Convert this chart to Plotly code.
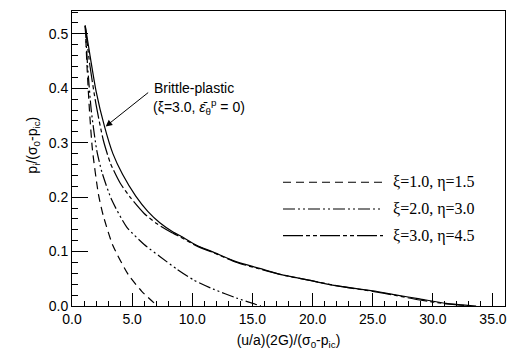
import plotly.graph_objects as go

# ---- data ----
x_xi1 = [1.1, 1.25, 1.45, 1.7, 2.2, 2.6, 3.4, 4.7, 5.8, 7.1]
y_xi1 = [0.515, 0.44, 0.36, 0.287, 0.205, 0.166, 0.111, 0.057, 0.027, 0.0]

x_xi2 = [1.1, 1.3, 1.6, 2.05, 2.5, 3.3, 4.55, 6.0, 7.3, 8.7, 10.1, 11.75, 13.7, 15.7]
y_xi2 = [0.515, 0.44, 0.36, 0.287, 0.245, 0.195, 0.145, 0.113, 0.091, 0.068, 0.048, 0.031, 0.0145, 0.0]

x_xi3 = [1.1, 1.5, 2.0, 2.6, 3.2, 4.0, 4.9, 6.0, 7.0, 8.2, 9.0, 10.4, 11.75, 13.7, 15.6, 17.3,
         20.0, 22.3, 25.0, 27.0, 28.9, 31.1, 33.4]
y_xi3 = [0.515, 0.44, 0.37, 0.305, 0.262, 0.226, 0.198, 0.170, 0.152, 0.136, 0.127, 0.110, 0.098,
         0.080, 0.068, 0.058, 0.046, 0.036, 0.027, 0.019, 0.011, 0.004, 0.0]

x_bp = [1.1, 1.5, 2.0, 2.7, 3.4, 4.2, 5.3, 6.3, 7.3, 8.4, 9.0, 10.4, 11.75, 13.7, 15.6, 17.3,
        20.0, 22.3, 25.0, 27.0, 28.9, 31.1, 33.6]
y_bp = [0.515, 0.46, 0.395, 0.33, 0.280, 0.242, 0.202, 0.174, 0.153, 0.136, 0.129, 0.111, 0.099,
        0.081, 0.069, 0.058, 0.046, 0.036, 0.028, 0.020, 0.013, 0.005, 0.0]

legend_labels = ["ξ=1.0, η=1.5", "ξ=2.0, η=3.0", "ξ=3.0, η=4.5"]
x_ticks = [0, 5, 10, 15, 20, 25, 30, 35]
y_ticks = [0.0, 0.1, 0.2, 0.3, 0.4, 0.5]

dash1 = "8px,5px"
dash2 = "12px,3px,2px,3px,2px,3px"
dash3 = "20px,3px,4px,3px,4px,3px"

fig = go.Figure()
common = dict(mode="lines", line_shape="spline", showlegend=False)
fig.add_trace(go.Scatter(x=x_xi1, y=y_xi1, line=dict(color="black", width=1.2, dash=dash1, smoothing=0.6), **common))
fig.add_trace(go.Scatter(x=x_xi2, y=y_xi2, line=dict(color="black", width=1.2, dash=dash2, smoothing=0.6), **common))
fig.add_trace(go.Scatter(x=x_xi3, y=y_xi3, line=dict(color="black", width=1.2, dash=dash3, smoothing=0.6), **common))
fig.add_trace(go.Scatter(x=x_bp, y=y_bp, line=dict(color="black", width=1.2, smoothing=0.6), **common))

# manual legend (paper coordinates)
L, R, T, B = 72, 505, 10, 308
W, H = R - L, B - T
def px(x):
    return (x - L) / W
def py(y):
    return (B - y) / H

rows = [183, 210, 237]
for lab, d, yy in zip(legend_labels, [dash1, dash2, dash3], rows):
    fig.add_shape(type="line", xref="paper", yref="paper", x0=px(283), x1=px(383), y0=py(yy), y1=py(yy),
                  line=dict(color="black", width=1.2, dash=d))
    fig.add_annotation(xref="paper", yref="paper", x=px(391), y=py(yy), text=lab, showarrow=False,
                       xanchor="left", yanchor="middle",
                       font=dict(family="Liberation Serif", size=16, color="black"))

# brittle-plastic annotation
fig.add_annotation(xref="paper", yref="paper", x=px(152), y=py(88), text="Brittle-plastic", showarrow=False,
                   xanchor="left", yanchor="middle", font=dict(family="Liberation Sans", size=14, color="black"))
fig.add_annotation(xref="paper", yref="paper", x=px(151), y=py(107),
                   text="(ξ=3.0, <i>ε̄</i><sub>θ</sub><sup>p</sup> = 0)", showarrow=False,
                   xanchor="left", yanchor="middle", font=dict(family="Liberation Sans", size=14, color="black"))
fig.add_annotation(x=2.8, y=0.33, xref="x", yref="y", text="", showarrow=True, arrowhead=2, arrowsize=1.3,
                   arrowwidth=1, arrowcolor="black", ax=44, ay=-35, standoff=0)

# y title
fig.add_annotation(xref="paper", yref="paper", x=px(33), y=py(146),
                   text="p<sub>i</sub>/(σ<sub>0</sub>-p<sub>ic</sub>)", showarrow=False, textangle=-90,
                   xanchor="center", yanchor="middle", font=dict(family="Liberation Sans", size=14, color="black"))

axis_common = dict(showline=True, linecolor="black", linewidth=1, mirror=True, showgrid=False, zeroline=False,
                   ticks="inside", tickcolor="black", tickwidth=1,
                   tickfont=dict(family="Liberation Sans", size=14, color="black"))
fig.update_xaxes(range=[0, 36.0], tickvals=x_ticks, tickformat=".1f", ticklen=13,
                 minor=dict(ticks="inside", dtick=1, ticklen=5, tickcolor="black", tickwidth=1),
                 title=dict(text="(u/a)(2G)/(σ<sub>0</sub>-p<sub>ic</sub>)", standoff=9,
                            font=dict(family="Liberation Sans", size=14, color="black")),
                 **axis_common)
fig.update_yaxes(range=[0, 0.542], tickvals=y_ticks, tickformat=".1f", ticklen=16,
                 minor=dict(ticks="inside", dtick=0.02, ticklen=6, tickcolor="black", tickwidth=1),
                 **axis_common)

fig.update_layout(width=522, height=356, margin=dict(l=L, r=522 - R, t=T, b=356 - B),
                  paper_bgcolor="white", plot_bgcolor="white")

fig.write_html("out.html")
